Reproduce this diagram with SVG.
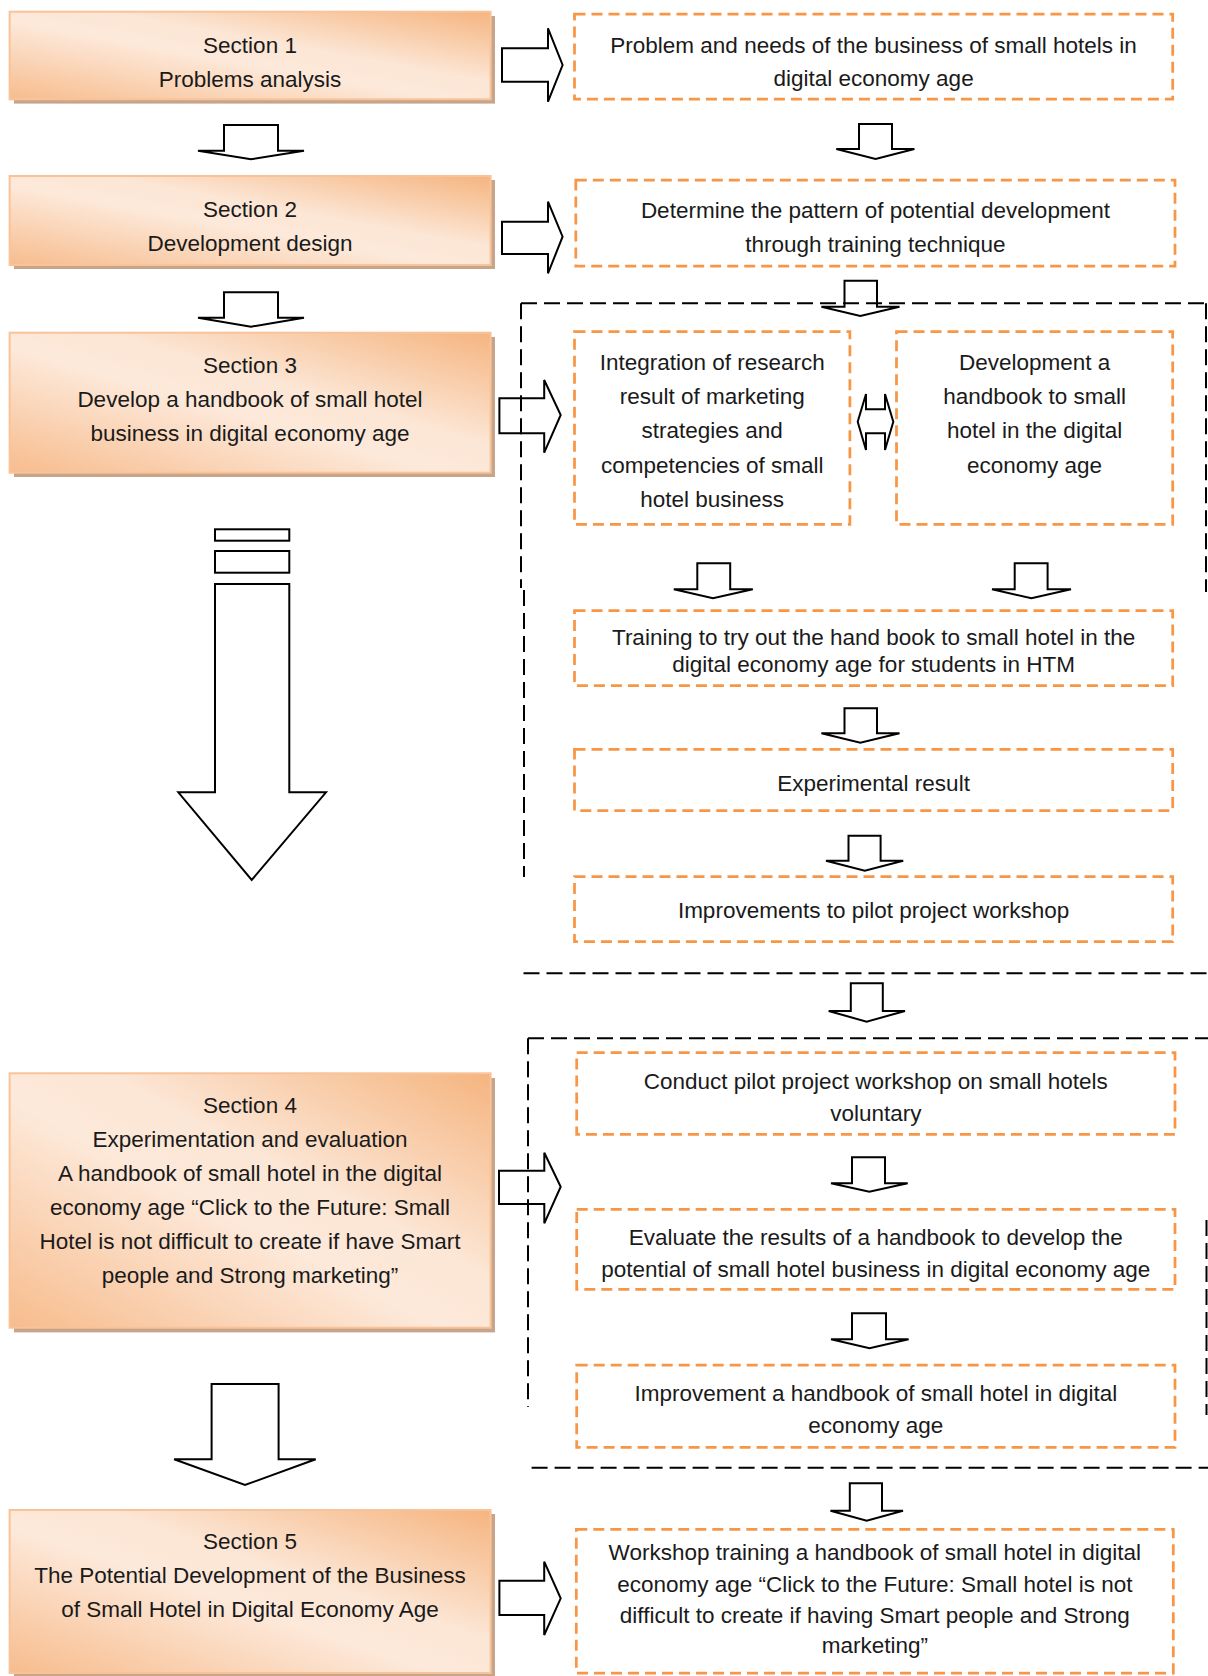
<svg xmlns="http://www.w3.org/2000/svg" width="1208" height="1676" viewBox="0 0 1208 1676">
<style>
.sec{fill:url(#secFill);stroke:#f9c39a;stroke-width:2}
.sh{fill:#c7a58b}
.ob{fill:none;stroke:#f79646;stroke-width:2.75;stroke-dasharray:11 6}
.arr{fill:#fff;stroke:#000;stroke-width:2;stroke-linejoin:miter}
.bd{fill:none;stroke:#000;stroke-width:2;stroke-dasharray:16 7}
.t{font-family:"Liberation Sans",Arial,sans-serif;font-size:22.5px;text-anchor:middle;fill:#1a1a1a}
</style>
<defs>
<linearGradient id="secFill" x1="0" y1="1" x2="1" y2="0">
<stop offset="0" stop-color="#f7bc8d"/>
<stop offset="0.45" stop-color="#fde9da"/>
<stop offset="0.6" stop-color="#fce6d5"/>
<stop offset="1" stop-color="#f5b47f"/>
</linearGradient>
</defs>
<rect width="1208" height="1676" fill="#fff"/>

<!-- Section boxes -->
<g id="section1"><rect class="sh" x="14" y="16" width="481" height="87.6"/><rect class="sec" x="9.6" y="11.7" width="481" height="87.6"/>
<text class="t" x="250" y="52.7">Section 1</text><text class="t" x="250" y="86.7">Problems analysis</text></g>
<g id="section2"><rect class="sh" x="14" y="180" width="481" height="89"/><rect class="sec" x="9.6" y="176" width="481" height="89"/>
<text class="t" x="250" y="216.7">Section 2</text><text class="t" x="250" y="250.7">Development design</text></g>
<g id="section3"><rect class="sh" x="14" y="337" width="481" height="140"/><rect class="sec" x="9.6" y="332.7" width="481" height="140"/>
<text class="t" x="250" y="372.7">Section 3</text><text class="t" x="250" y="406.7">Develop a handbook of small hotel</text><text class="t" x="250" y="441">business in digital economy age</text></g>
<g id="section4"><rect class="sh" x="14" y="1078" width="481" height="254.4"/><rect class="sec" x="9.6" y="1073.3" width="481" height="254.4"/>
<text class="t" x="250" y="1112.7">Section 4</text>
<text class="t" x="250" y="1146.7">Experimentation and evaluation</text>
<text class="t" x="250" y="1180.7">A handbook of small hotel in the digital</text>
<text class="t" x="250" y="1215">economy age “Click to the Future: Small</text>
<text class="t" x="250" y="1249.3">Hotel is not difficult to create if have Smart</text>
<text class="t" x="250" y="1283.3">people and Strong marketing”</text></g>
<g id="section5"><rect class="sh" x="14" y="1514" width="481" height="166"/><rect class="sec" x="9.6" y="1510" width="481" height="163"/>
<text class="t" x="250" y="1549.3">Section 5</text>
<text class="t" x="250" y="1582.7">The Potential Development of the Business</text>
<text class="t" x="250" y="1616.7">of Small Hotel in Digital Economy Age</text></g>

<!-- Right boxes -->
<g id="box1"><rect class="ob" x="574.5" y="14" width="598.2" height="85"/>
<text class="t" x="873.6" y="53.3">Problem and needs of the business of small hotels in</text><text class="t" x="873.6" y="86">digital economy age</text></g>
<g id="box2"><rect class="ob" x="575.8" y="180" width="599.2" height="86"/>
<text class="t" x="875.4" y="218">Determine the pattern of potential development</text><text class="t" x="875.4" y="251.7">through training technique</text></g>
<g id="box3a"><rect class="ob" x="574.5" y="331.7" width="275.4" height="192.6"/>
<text class="t" x="712.2" y="370">Integration of research</text><text class="t" x="712.2" y="404">result of marketing</text><text class="t" x="712.2" y="438.3">strategies and</text><text class="t" x="712.2" y="472.7">competencies of small</text><text class="t" x="712.2" y="506.7">hotel business</text></g>
<g id="box3b"><rect class="ob" x="896.5" y="331.7" width="276.2" height="192.6"/>
<text class="t" x="1034.6" y="370">Development a</text><text class="t" x="1034.6" y="404">handbook to small</text><text class="t" x="1034.6" y="438.3">hotel in the digital</text><text class="t" x="1034.6" y="472.7">economy age</text></g>
<g id="box4"><rect class="ob" x="574.5" y="610.7" width="598.2" height="75"/>
<text class="t" x="873.6" y="645">Training to try out the hand book to small hotel in the</text><text class="t" x="873.6" y="671.7">digital economy age for students in HTM</text></g>
<g id="box5"><rect class="ob" x="574.5" y="749.3" width="598.2" height="61.4"/>
<text class="t" x="873.6" y="790.7">Experimental result</text></g>
<g id="box6"><rect class="ob" x="574.5" y="876.7" width="598.2" height="65"/>
<text class="t" x="873.6" y="918.3">Improvements to pilot project workshop</text></g>
<g id="box7"><rect class="ob" x="576.7" y="1052.7" width="598.3" height="81.6"/>
<text class="t" x="875.8" y="1089.3">Conduct pilot project workshop on small hotels</text><text class="t" x="875.8" y="1120.7">voluntary</text></g>
<g id="box8"><rect class="ob" x="576.7" y="1209.3" width="598.3" height="80"/>
<text class="t" x="875.8" y="1245">Evaluate the results of a handbook to develop the</text><text class="t" x="875.8" y="1276.7">potential of small hotel business in digital economy age</text></g>
<g id="box9"><rect class="ob" x="576.7" y="1365" width="598.3" height="82.3"/>
<text class="t" x="875.8" y="1400.7">Improvement a handbook of small hotel in digital</text><text class="t" x="875.8" y="1432.7">economy age</text></g>
<g id="box10"><rect class="ob" x="576.3" y="1529.3" width="597" height="143.7"/>
<text class="t" x="874.8" y="1560">Workshop training a handbook of small hotel in digital</text>
<text class="t" x="874.8" y="1591.7">economy age “Click to the Future: Small hotel is not</text>
<text class="t" x="874.8" y="1623.3">difficult to create if having Smart people and Strong</text>
<text class="t" x="874.8" y="1653.3">marketing”</text></g>

<!-- Connectors -->
<g id="connectors">
<polygon class="arr" points="224,125 278,125 278,150.7 304,150.7 251,159.3 198,150.7 224,150.7"/>
<polygon class="arr" points="224,292.3 278,292.3 278,317.7 304,317.7 251,326.7 198,317.7 224,317.7"/>
<rect class="arr" x="215" y="529.3" width="74.3" height="11.4"/>
<rect class="arr" x="215" y="551" width="74.3" height="21.7"/>
<polygon class="arr" points="215,584 289.3,584 289.3,792.3 326,792.3 251.7,880 178.3,792.3 215,792.3"/>
<polygon class="arr" points="211.6,1384 278.6,1384 278.6,1459.3 315.7,1459.3 245,1485 174.1,1459.3 211.6,1459.3"/>

<polygon class="arr" points="859,124 892,124 892,149 914.4,149 875.6,159 836.3,149 859,149"/>
<polygon class="arr" points="844.5,280.7 877,280.7 877,306.7 899.5,306.7 860.3,316 821.4,306.7 844.5,306.7"/>
<polygon class="arr" points="697.3,563.3 730.2,563.3 730.2,589.3 752.8,589.3 713,598.3 673.8,589.3 697.3,589.3"/>
<polygon class="arr" points="1014.7,563.3 1047.6,563.3 1047.6,589.3 1071,589.3 1031.4,598.3 992,589.3 1014.7,589.3"/>
<polygon class="arr" points="844.5,708.3 877,708.3 877,733.3 899.5,733.3 860.3,742.7 821.4,733.3 844.5,733.3"/>
<polygon class="arr" points="848.5,835.7 880.6,835.7 880.6,860.7 903.2,860.7 864.8,870.7 826,860.7 848.5,860.7"/>
<polygon class="arr" points="850.8,983.3 882.8,983.3 882.8,1011 905,1011 866.6,1021.7 828.7,1011 850.8,1011"/>
<polygon class="arr" points="852,1157.3 885,1157.3 885,1183.3 907.7,1183.3 869.3,1191.7 831,1183.3 852,1183.3"/>
<polygon class="arr" points="852,1313.3 886,1313.3 886,1339.3 908.6,1339.3 869.5,1348.3 831,1339.3 852,1339.3"/>
<polygon class="arr" points="849.8,1483.3 882,1483.3 882,1510.7 903,1510.7 866.7,1520.7 830.5,1510.7 849.8,1510.7"/>

<polygon class="arr" points="502,48.3 548,48.3 548,28.3 562.6,65 548,101.7 548,81.7 502,81.7"/>
<polygon class="arr" points="502,221.7 548,221.7 548,201.7 562.6,236.7 548,273.3 548,254 502,254"/>
<polygon class="arr" points="499.4,398.3 544.2,398.3 544.2,380 560.7,415 544.2,452.7 544.2,433.3 499.4,433.3"/>
<polygon class="arr" points="499,1170.7 544.3,1170.7 544.3,1152.7 560.7,1186.7 544.3,1223.3 544.3,1204 499,1204"/>
<polygon class="arr" points="499.4,1580.7 544.2,1580.7 544.2,1561.7 560.7,1598.3 544.2,1635 544.2,1615 499.4,1615"/>

<polygon class="arr" points="857.7,421.7 866,394 866,409.3 885,409.3 885,394 893.3,421.7 885,450 885,433.3 866,433.3 866,450"/>

<path class="bd" d="M521,303.3 H1208"/>
<path class="bd" d="M521,303.3 V588"/>
<path class="bd" d="M524,590 V877"/>
<path class="bd" d="M1206,303.3 V592"/>
<path class="bd" d="M523.5,973.3 H1208"/>
<path class="bd" d="M528,1038.3 H1208"/>
<path class="bd" d="M528,1038.3 V1407"/>
<path class="bd" d="M1206.5,1220 V1415"/>
<path class="bd" d="M531.6,1467.7 H1208"/>
</g>
</svg>
